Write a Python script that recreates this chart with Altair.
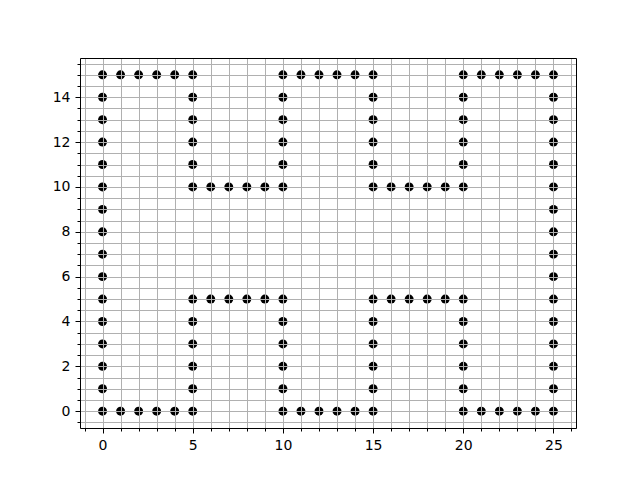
import altair as alt
import pandas as pd

# Point coordinates
xs = (
    [0, 1, 2, 3, 4, 5, 10, 11, 12, 13, 14, 15, 20, 21, 22, 23, 24, 25]          # y=15
    + [5, 6, 7, 8, 9, 10, 15, 16, 17, 18, 19, 20]                                # y=10
    + [5, 6, 7, 8, 9, 10, 15, 16, 17, 18, 19, 20]                                # y=5
    + [0, 1, 2, 3, 4, 5, 10, 11, 12, 13, 14, 15, 20, 21, 22, 23, 24, 25]         # y=0
    + [0] * 14 + [25] * 14                                                       # side columns
    + [5, 5, 5, 5, 10, 10, 10, 10, 15, 15, 15, 15, 20, 20, 20, 20]               # upper inner columns
    + [5, 5, 5, 5, 10, 10, 10, 10, 15, 15, 15, 15, 20, 20, 20, 20]               # lower inner columns
)
ys = (
    [15] * 18
    + [10] * 12
    + [5] * 12
    + [0] * 18
    + list(range(1, 15)) + list(range(1, 15))
    + [11, 12, 13, 14] * 4
    + [1, 2, 3, 4] * 4
)

x_major = [0, 5, 10, 15, 20, 25]
x_minor = list(range(-1, 27))
y_major = [0, 2, 4, 6, 8, 10, 12, 14]
y_minor = [v / 2 for v in range(-1, 32)]

df = pd.DataFrame({"x": xs, "y": ys})

sx = alt.Scale(domain=[-1.25, 26.25], nice=False, zero=False)
sy = alt.Scale(domain=[-0.75, 15.75], nice=False, zero=False)

font = "DejaVu Sans"

points = alt.Chart(df).mark_circle(size=80, color="black", opacity=1).encode(
    x=alt.X("x:Q", scale=sx, axis=alt.Axis(
        orient="bottom", values=x_minor, grid=True, gridColor="#b0b0b0", gridWidth=1,
        tickSize=3, tickColor="black", labels=False, title=None, domain=True,
        domainColor="black", zindex=1)),
    y=alt.Y("y:Q", scale=sy, axis=alt.Axis(
        orient="left", values=y_minor, grid=True, gridColor="#b0b0b0", gridWidth=1,
        tickSize=3, tickColor="black", labels=False, title=None, domain=True,
        domainColor="black", zindex=1)),
)

major = alt.Chart(df).mark_circle(opacity=0).encode(
    x=alt.X("x:Q", scale=sx, axis=alt.Axis(
        orient="bottom", values=x_major, grid=False, tickSize=5, tickColor="black",
        labelFontSize=14, labelFont=font, labelColor="black", labelPadding=5,
        title=None, domain=False, zindex=1)),
    y=alt.Y("y:Q", scale=sy, axis=alt.Axis(
        orient="left", values=y_major, grid=False, tickSize=5, tickColor="black",
        labelFontSize=14, labelFont=font, labelColor="black", labelPadding=5,
        title=None, domain=False, zindex=1)),
)

frame = alt.Chart(df).mark_circle(opacity=0).encode(
    x=alt.X("x:Q", scale=sx, axis=alt.Axis(
        orient="top", grid=False, ticks=False, labels=False, title=None,
        domain=True, domainColor="black", zindex=2)),
    y=alt.Y("y:Q", scale=sy, axis=alt.Axis(
        orient="right", grid=False, ticks=False, labels=False, title=None,
        domain=True, domainColor="black", zindex=2)),
)

chart = alt.layer(points, major, frame).resolve_axis(x="independent", y="independent").properties(
    width=496, height=370,
    autosize=alt.AutoSizeParams(type="none"),
    padding={"left": 80, "top": 58, "right": 64, "bottom": 52},
).configure_view(stroke="black", strokeWidth=1).configure(background="white")

chart.save("out.html", embed_options={"renderer": "svg", "actions": False})
